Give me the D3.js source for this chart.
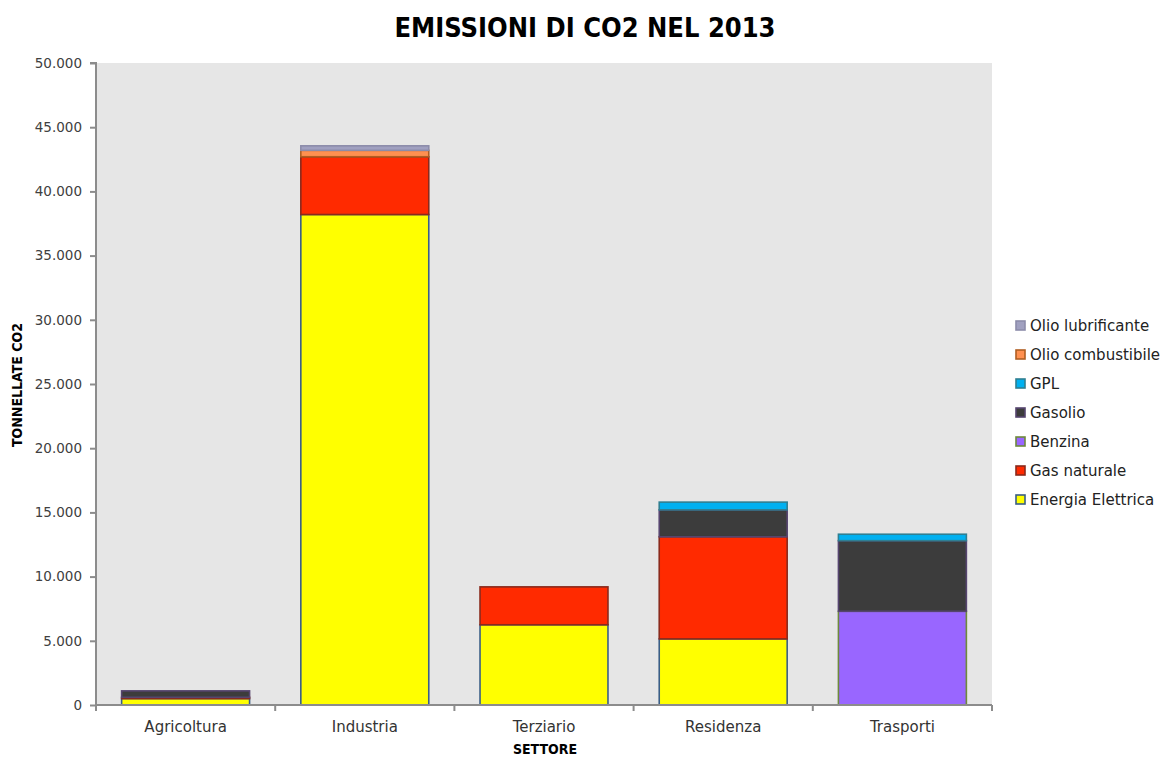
<!DOCTYPE html>
<html><head><meta charset="utf-8">
<script src="https://cdn.jsdelivr.net/npm/d3@7"></script>
<style>body{margin:0;background:#fff;font-family:"DejaVu Sans",sans-serif;}</style>
</head><body><svg id="c" width="1167" height="758"></svg>
<script>
const categories = ["Agricoltura","Industria","Terziario","Residenza","Trasporti"];
const seriesNames = ["Energia Elettrica","Gas naturale","Benzina","Gasolio","GPL","Olio combustibile","Olio lubrificante"];
const energiaElettrica = [500, 38200, 6250, 5150, 0];
const gasNaturale      = [100, 4500, 2950, 7950, 0];
const benzina          = [0, 0, 0, 0, 7300];
const gasolio          = [500, 0, 0, 2100, 5500];
const gpl              = [0, 0, 0, 600, 500];
const olioCombustibile = [0, 500, 0, 0, 0];
const olioLubrificante = [0, 350, 0, 0, 0];
const yTicks = [0,5000,10000,15000,20000,25000,30000,35000,40000,45000,50000];
const fills   = ["#ffff00","#ff2a00","#9966ff","#3c3c3c","#00b0f0","#ff9050","#a0a0c0"];
const strokes = ["#3a5e86","#8a2a1c","#6e8a3c","#56456f","#2f7f92","#b05e22","#8c8caa"];

const allSeries = [energiaElettrica,gasNaturale,benzina,gasolio,gpl,olioCombustibile,olioLubrificante];
const rows = categories.map((c,i)=>{const o={cat:c}; seriesNames.forEach((s,j)=>o[s]=allSeries[j][i]); return o;});
const stacked = d3.stack().keys(seriesNames)(rows);

const svg = d3.select("#c");
const m = {l:96, r:992, t:63, b:705};
const x = d3.scaleBand().domain(categories).range([m.l,m.r]).paddingInner(0.286).paddingOuter(0.143);
const y = d3.scaleLinear().domain([0,50000]).range([m.b,m.t]);

svg.append("rect").attr("x",m.l).attr("y",m.t).attr("width",m.r-m.l).attr("height",m.b-m.t).attr("fill","#e6e6e6");

svg.append("text").attr("x",585).attr("y",37).attr("text-anchor","middle")
  .attr("font-family","DejaVu Sans Condensed, DejaVu Sans").attr("font-weight","bold").attr("font-size",27)
  .attr("fill","#000").text("EMISSIONI DI CO2 NEL 2013");

stacked.forEach((s,j)=>{
  svg.append("g").selectAll("rect").data(s.filter(d=>d[1]-d[0]>0)).join("rect")
    .attr("x",d=>x(d.data.cat)).attr("width",x.bandwidth())
    .attr("y",d=>y(d[1])).attr("height",d=>y(d[0])-y(d[1]))
    .attr("fill",fills[j]).attr("stroke",strokes[j]).attr("stroke-width",1.6);
});

// y axis
const fmt = d3.formatLocale({decimal:",",thousands:".",grouping:[3],currency:["",""]}).format(",d");
const ya = svg.append("g").attr("transform",`translate(${m.l},0)`)
  .call(d3.axisLeft(y).tickValues(yTicks).tickFormat(fmt).tickSize(6).tickPadding(8));
ya.select(".domain").attr("stroke","#8c8c8c").attr("stroke-width",2).attr("d",`M-6,${m.t}H0V${m.b}`);
ya.selectAll(".tick line").attr("stroke","#8c8c8c").attr("stroke-width",2);
ya.selectAll("text").attr("font-family","DejaVu Sans, sans-serif").attr("font-size",13.5).attr("fill","#404040");

// x axis
const xa = svg.append("g").attr("transform",`translate(0,${m.b})`)
  .call(d3.axisBottom(x).tickSize(0).tickPadding(16));
xa.select(".domain").attr("stroke","#8c8c8c").attr("stroke-width",2).attr("d",`M${m.l},0H${m.r}`);
xa.selectAll("text").attr("font-family","DejaVu Sans, sans-serif").attr("font-size",15).attr("fill","#333");
const step = x.step();
const bounds = d3.range(categories.length+1).map(i=>m.l+i*step);
svg.append("g").selectAll("line").data(bounds).join("line")
  .attr("x1",d=>d).attr("x2",d=>d).attr("y1",m.b).attr("y2",m.b+6)
  .attr("stroke","#8c8c8c").attr("stroke-width",2);

svg.append("text").attr("x",545).attr("y",754).attr("text-anchor","middle")
  .attr("font-family","DejaVu Sans Condensed, DejaVu Sans").attr("font-weight","bold").attr("font-size",14)
  .attr("fill","#000").text("SETTORE");
svg.append("text").attr("transform","translate(22,385) rotate(-90)").attr("text-anchor","middle")
  .attr("font-family","DejaVu Sans Condensed, DejaVu Sans").attr("font-weight","bold").attr("font-size",14)
  .attr("fill","#000").text("TONNELLATE CO2");

// legend
const leg = svg.append("g");
const legendOrder = seriesNames.map((s,j)=>j).reverse();
legendOrder.forEach((j,k)=>{
  const ly = 326 + k*29;
  leg.append("rect").attr("x",1016).attr("y",ly-5).attr("width",9).attr("height",9)
    .attr("fill",fills[j]).attr("stroke",strokes[j]).attr("stroke-width",1.6);
  leg.append("text").attr("x",1030).attr("y",ly).attr("dy","0.35em")
    .attr("font-family","DejaVu Sans, sans-serif").attr("font-size",15).attr("fill","#222").text(seriesNames[j]);
});
</script></body></html>
